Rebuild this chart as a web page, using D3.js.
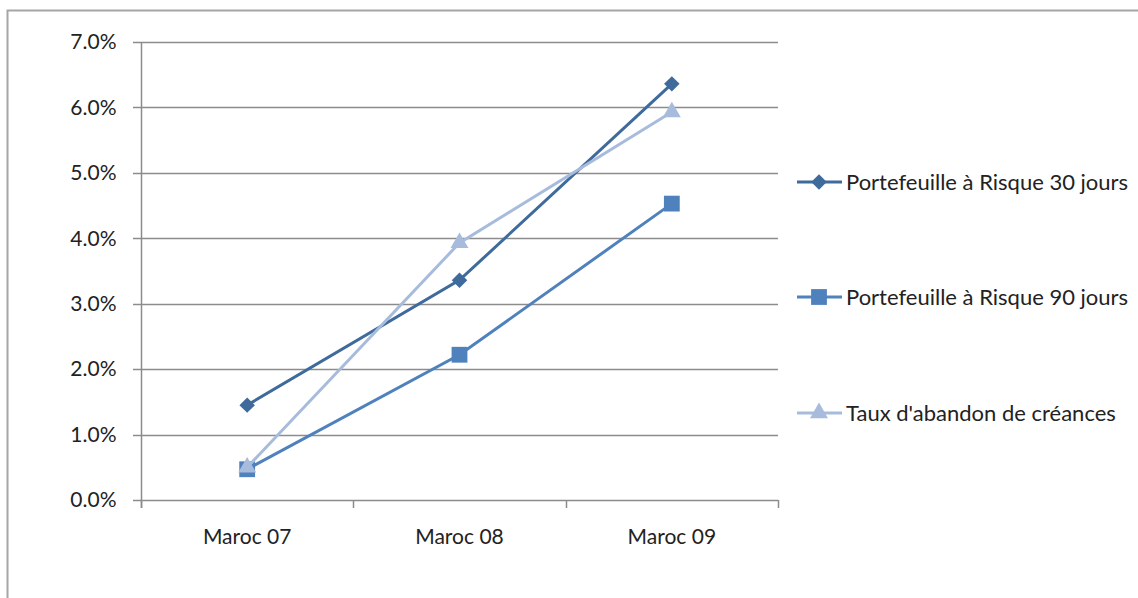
<!DOCTYPE html>
<html>
<head>
<meta charset="utf-8">
<script src="https://cdn.jsdelivr.net/npm/d3@7"></script>
<style>
  html, body { margin: 0; padding: 0; background: #fff; }
  svg { display: block; }
  text { font-family: Lato, "Open Sans", sans-serif; fill: #222; }
</style>
</head>
<body>
<svg id="chart" width="1138" height="598"></svg>
<script>
// Categories and series values (percent)
const categories = ["Maroc 07", "Maroc 08", "Maroc 09"];
const seriesNames = [
  "Portefeuille à Risque 30 jours",
  "Portefeuille à Risque 90 jours",
  "Taux d'abandon de créances"
];
const par30 = [1.45, 3.36, 6.36];
const par90 = [0.47, 2.22, 4.53];
const abandon = [0.50, 3.93, 5.93];
const yTicks = [0, 1, 2, 3, 4, 5, 6, 7];

const series = [
  { name: seriesNames[0], values: par30, color: "#3E6A9C", symbol: d3.symbolSquare, rotate: 45, size: 120 },
  { name: seriesNames[1], values: par90, color: "#4F81BD", symbol: d3.symbolSquare, rotate: 0, size: 250 },
  { name: seriesNames[2], values: abandon, color: "#A7BCDC", symbol: d3.symbolTriangle, rotate: 0, size: 140 }
];

const AXIS_FONT = "21px";
const LEGEND_FONT = "22px";

const svg = d3.select("#chart");

// outer frame
svg.append("path")
  .attr("d", "M7.5,598 V10.5 H1138")
  .attr("fill", "none")
  .attr("stroke", "#a6a6a6")
  .attr("stroke-width", 2);

const plot = { left: 141, right: 778, top: 42, bottom: 500 };

const x = d3.scaleBand().domain(categories).range([plot.left, plot.right]);
const y = d3.scaleLinear().domain([0, 7]).range([plot.bottom, plot.top]);

// gridlines
svg.append("g")
  .selectAll("line")
  .data(yTicks)
  .join("line")
  .attr("x1", plot.left - 8)
  .attr("x2", plot.right)
  .attr("y1", d => Math.round(y(d)) + 0.5)
  .attr("y2", d => Math.round(y(d)) + 0.5)
  .attr("stroke", "#8c8c8c")
  .attr("stroke-width", 1.5);

// y axis
const yAxis = svg.append("g")
  .attr("transform", `translate(${plot.left + 0.5},0)`)
  .call(d3.axisLeft(y).tickValues(yTicks).tickFormat(d => d.toFixed(1) + "%").tickSize(0).tickPadding(25));
yAxis.select(".domain").attr("stroke", "#8c8c8c").attr("stroke-width", 1.5)
  .attr("d", `M0,${plot.top}V${plot.bottom + 8}`);
yAxis.selectAll("text").style("font-size", AXIS_FONT).attr("fill", "#222")
  .style("font-family", "Lato, sans-serif");

// x axis
const xAxis = svg.append("g")
  .attr("transform", `translate(0,${plot.bottom + 0.5})`)
  .call(d3.axisBottom(x).tickSize(0).tickPadding(29));
xAxis.select(".domain").remove();
xAxis.selectAll("text").style("font-size", AXIS_FONT).attr("fill", "#222")
  .style("font-family", "Lato, sans-serif");
// category boundary ticks
const bounds = [plot.left, ...categories.map(c => x(c) + x.bandwidth())];
svg.append("g")
  .selectAll("line")
  .data(bounds)
  .join("line")
  .attr("x1", d => Math.round(d) + 0.5)
  .attr("x2", d => Math.round(d) + 0.5)
  .attr("y1", plot.bottom)
  .attr("y2", plot.bottom + 8)
  .attr("stroke", "#8c8c8c")
  .attr("stroke-width", 1.5);

const cx = c => x(c) + x.bandwidth() / 2;
const line = d3.line().x((d, i) => cx(categories[i])).y(d => y(d));

// lines and markers
series.forEach(s => {
  const g = svg.append("g");
  g.append("path")
    .attr("d", line(s.values))
    .attr("fill", "none")
    .attr("stroke", s.color)
    .attr("stroke-width", 3);
  g.selectAll("path.m")
    .data(s.values)
    .join("path")
    .attr("class", "m")
    .attr("transform", (d, i) => `translate(${cx(categories[i])},${y(d)}) rotate(${s.rotate})`)
    .attr("d", d3.symbol().type(s.symbol).size(s.size))
    .attr("fill", s.color);
});

// legend
const legendY = [182, 297, 413];
series.forEach((s, i) => {
  const g = svg.append("g").attr("transform", `translate(797,${legendY[i]})`);
  g.append("line")
    .attr("x1", 0).attr("x2", 45)
    .attr("stroke", s.color).attr("stroke-width", 3);
  g.append("path")
    .attr("transform", `translate(22,0) rotate(${s.rotate})`)
    .attr("d", d3.symbol().type(s.symbol).size(s.size))
    .attr("fill", s.color);
  g.append("text")
    .attr("x", 49)
    .attr("dy", "0.35em")
    .style("font-size", LEGEND_FONT)
    .text(s.name);
});
</script>
</body>
</html>
